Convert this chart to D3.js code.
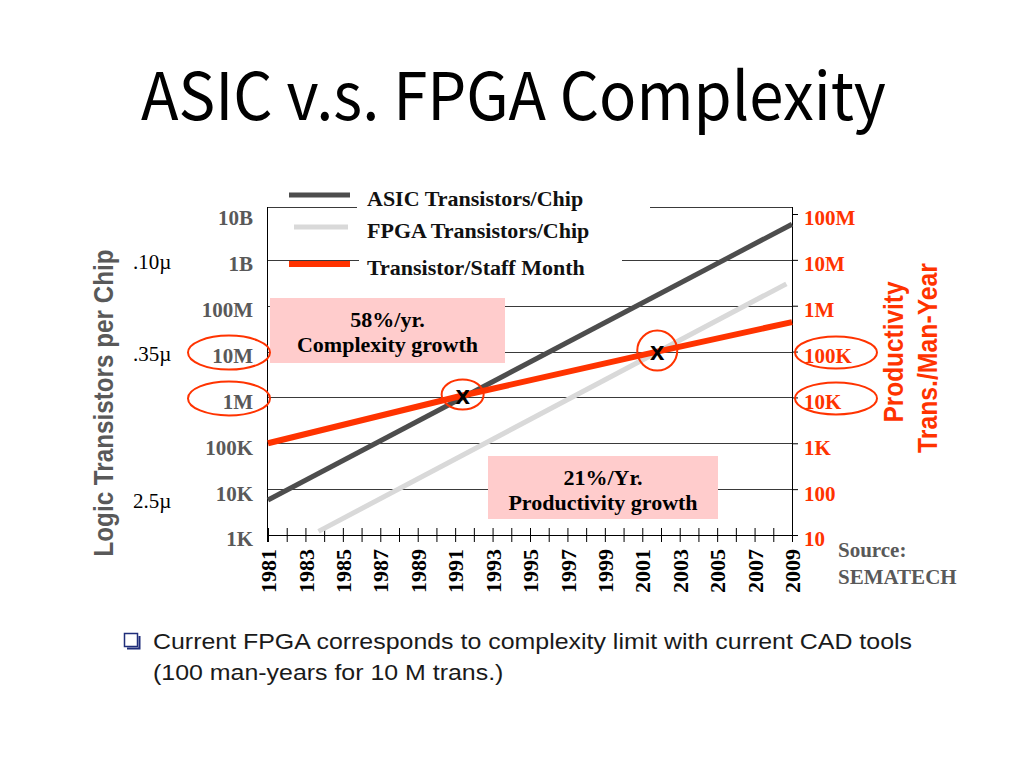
<!DOCTYPE html>
<html lang="en">
<head>
<meta charset="UTF-8">
<title>ASIC v.s. FPGA Complexity</title>
<script src="https://cdn.jsdelivr.net/npm/d3@7"></script>
<style>
  body { margin: 0; background: #fff; }
  svg { display: block; }
  .serif { font-family: "Liberation Serif", "Times New Roman", serif; font-weight: bold; }
  .sans { font-family: "Liberation Sans", Arial, sans-serif; }
</style>
</head>
<body>
<script>
// values
const leftTicks = [1e3, 1e4, 1e5, 1e6, 1e7, 1e8, 1e9, 1e10];
const leftTickLabels = ["1K", "10K", "100K", "1M", "10M", "100M", "1B", "10B"];
const rightTicks = [10, 100, 1e3, 1e4, 1e5, 1e6, 1e7, 1e8];
const rightTickLabels = ["10", "100", "1K", "10K", "100K", "1M", "10M", "100M"];
const yearTicks = d3.range(1981, 2010);

const asicYears = [1981, 2009];
const asicValues = [5.8e3, 6.0e9];
const fpgaYears = [1983.7, 2008.7];
const fpgaValues = [1.2e3, 3.0e8];
const staffYears = [1981, 1991.4, 2001.8, 2009];
const staffValues = [1.0e3, 1.1e4, 1.0e5, 4.4e5];   // productivity axis

const crossYears = [1991.4, 2001.8];
const crossValues = [1.1e4, 1.0e5];                 // productivity axis

const processNodes = [".10µ", ".35µ", "2.5µ"];
const processValues = [1e9, 1e7, 6e3];

const circledLeft = [1e7, 1e6];
const circledRight = [1e5, 1e4];

const legendLabels = ["ASIC Transistors/Chip", "FPGA Transistors/Chip", "Transistor/Staff Month"];
const seriesColors = ["#4d4d4d", "#d9d9d9", "#ff3300"];

const noteLines = [["58%/yr.", "Complexity growth"], ["21%/Yr.", "Productivity growth"]];

const W = 1024, H = 768;
const red = "#ff3300", grey = "#595959";

let svg = d3.select("body").append("svg")
    .attr("width", W)
    .attr("height", H);

// title
let title = svg.append("text")
    .attr("x", 141).attr("y", 120)
    .style("font-family", "'Noto Sans CJK KR', 'Noto Sans', sans-serif")
    .style("font-size", "66px")
    .attr("fill", "#000")
    .text("ASIC v.s. FPGA Complexity");
title.attr("textLength", 745).attr("lengthAdjust", "spacingAndGlyphs");

// scales
let x = d3.scaleLinear().domain([1981, 2009]).range([268, 792]);
let yL = d3.scaleLog().domain([1e3, 1e10]).range([535, 214]);
let yR = d3.scaleLog().domain([10, 1e8]).range([535, 214]);
const frameTop = 207;
const [x0, x1] = x.range();

// grid lines (1K is the axis, 10B row is the frame top)
let grid = svg.append("g").attr("stroke", "#3a3a3a").attr("stroke-width", 1);
grid.selectAll("line.grid")
    .data(leftTicks.slice(1, -1))
    .join("line")
    .attr("class", "grid")
    .attr("x1", x0).attr("x2", x1)
    .attr("y1", d => Math.round(yL(d)) + 0.5)
    .attr("y2", d => Math.round(yL(d)) + 0.5);
grid.append("line")
    .attr("x1", x0).attr("x2", x1)
    .attr("y1", frameTop + 0.5).attr("y2", frameTop + 0.5);

// pink annotation boxes
const boxes = [{x: 270, y: 298, w: 235, h: 65}, {x: 488, y: 456, w: 230, h: 63}];
svg.selectAll("rect.note")
    .data(boxes)
    .join("rect")
    .attr("class", "note")
    .attr("x", d => d.x).attr("y", d => d.y)
    .attr("width", d => d.w).attr("height", d => d.h)
    .attr("fill", "#ffcccc");

boxes.forEach((b, i) => {
    svg.append("text")
        .attr("class", "serif")
        .attr("x", b.x + b.w / 2).attr("y", b.y + 29)
        .attr("text-anchor", "middle")
        .style("font-size", "22px")
        .text(noteLines[i][0]);
    svg.append("text")
        .attr("class", "serif")
        .attr("x", b.x + b.w / 2).attr("y", b.y + 54)
        .attr("text-anchor", "middle")
        .style("font-size", "22px")
        .text(noteLines[i][1]);
});

// legend (white backing hides the grid lines under the labels)
const legendRows = [
    {y: 206, bg: [357, 186, 293, 28]},
    {y: 238, bg: [357, 218, 293, 28]},
    {y: 275, bg: [359, 252, 263, 30]}
];
let legend = svg.append("g");
legend.selectAll("rect")
    .data(legendRows)
    .join("rect")
    .attr("x", d => d.bg[0]).attr("y", d => d.bg[1])
    .attr("width", d => d.bg[2]).attr("height", d => d.bg[3])
    .attr("fill", "#fff");
legend.selectAll("line")
    .data(legendRows)
    .join("line")
    .attr("x1", (d, i) => i === 1 ? 294 : 289)
    .attr("x2", (d, i) => i === 1 ? 348 : 350)
    .attr("y1", d => d.y - 11).attr("y2", d => d.y - 11)
    .attr("stroke", (d, i) => seriesColors[i])
    .attr("stroke-width", (d, i) => i === 2 ? 6 : 5);
legend.selectAll("text")
    .data(legendRows)
    .join("text")
    .attr("class", "serif")
    .attr("x", 367).attr("y", d => d.y)
    .style("font-size", "22px")
    .attr("fill", "#111")
    .text((d, i) => legendLabels[i]);

// axes
let xAxis = svg.append("g")
    .attr("transform", "translate(0,535)")
    .call(d3.axisBottom(x).tickValues(yearTicks).tickSize(7).tickSizeOuter(0)
        .tickFormat(d => d % 2 === 1 ? d : ""));
xAxis.select(".domain").remove();
xAxis.selectAll(".tick line").attr("y1", -7).attr("stroke", "#000");
xAxis.selectAll(".tick text")
    .attr("class", "serif")
    .attr("transform", "rotate(-90)")
    .attr("x", -14).attr("y", 0).attr("dy", "0.35em")
    .style("text-anchor", "end")
    .style("font-size", "22px")
    .attr("fill", "#000");

let leftAxis = svg.append("g")
    .attr("transform", "translate(" + x0 + ",0)")
    .call(d3.axisLeft(yL).tickValues(leftTicks).tickSize(0).tickPadding(15)
        .tickFormat((d, i) => leftTickLabels[i]));
leftAxis.select(".domain").remove();
leftAxis.selectAll(".tick text")
    .attr("class", "serif")
    .attr("dy", "0.52em")
    .style("font-size", "21px")
    .attr("fill", grey);

let rightAxis = svg.append("g")
    .attr("transform", "translate(" + x1 + ",0)")
    .call(d3.axisRight(yR).tickValues(rightTicks).tickSize(6).tickPadding(6)
        .tickFormat((d, i) => rightTickLabels[i]));
rightAxis.select(".domain").remove();
rightAxis.selectAll(".tick line").attr("stroke", "#000");
rightAxis.selectAll(".tick text")
    .attr("class", "serif")
    .attr("dy", "0.52em")
    .style("font-size", "21px")
    .attr("fill", red);

svg.append("line")
    .attr("x1", x0 - 0.5).attr("x2", x0 - 0.5)
    .attr("y1", frameTop).attr("y2", 542)
    .attr("stroke", "#000");
svg.append("line")
    .attr("x1", x1 + 0.5).attr("x2", x1 + 0.5)
    .attr("y1", frameTop).attr("y2", 542)
    .attr("stroke", "#000");
svg.append("line")
    .attr("x1", x0).attr("x2", x1)
    .attr("y1", 535.5).attr("y2", 535.5)
    .attr("stroke", "#000");

// series
let line = d3.line().x(d => x(d[0])).y(d => d[1]);
const series = [
    asicYears.map((yr, i) => [yr, yL(asicValues[i])]),
    fpgaYears.map((yr, i) => [yr, yL(fpgaValues[i])]),
    staffYears.map((yr, i) => [yr, yR(staffValues[i])])
];
svg.selectAll("path.series")
    .data(series)
    .join("path")
    .attr("class", "series")
    .attr("d", line)
    .attr("fill", "none")
    .attr("stroke", (d, i) => seriesColors[i])
    .attr("stroke-width", (d, i) => i === 2 ? 6 : 5);

// crossover marks
const crossR = [[21, 15], [20, 20]];
crossYears.forEach((yr, i) => {
    let cx = x(yr), cy = yR(crossValues[i]);
    svg.append("ellipse")
        .attr("cx", cx).attr("cy", cy - 1)
        .attr("rx", crossR[i][0]).attr("ry", crossR[i][1])
        .attr("fill", "none").attr("stroke", red).attr("stroke-width", 2);
    svg.append("text")
        .attr("class", "sans")
        .attr("x", cx).attr("y", cy + 8)
        .attr("text-anchor", "middle")
        .style("font-size", "26px").style("font-weight", "bold")
        .text("x");
});

// circled tick labels
svg.selectAll("ellipse.cl")
    .data(circledLeft)
    .join("ellipse")
    .attr("class", "cl")
    .attr("cx", 229).attr("cy", d => yL(d) + 1)
    .attr("rx", 41).attr("ry", 17)
    .attr("fill", "none").attr("stroke", red).attr("stroke-width", 2);
svg.selectAll("ellipse.cr")
    .data(circledRight)
    .join("ellipse")
    .attr("class", "cr")
    .attr("cx", 836).attr("cy", d => yR(d) + 1)
    .attr("rx", 41).attr("ry", 16)
    .attr("fill", "none").attr("stroke", red).attr("stroke-width", 2);

// process nodes
svg.selectAll("text.node")
    .data(processNodes)
    .join("text")
    .attr("class", "node")
    .attr("x", 133).attr("y", (d, i) => yL(processValues[i]) + 9)
    .style("font-family", "'Liberation Serif', 'Times New Roman', serif")
    .style("font-size", "21px")
    .text(d => d);

// axis titles
svg.append("text")
    .attr("class", "sans")
    .attr("transform", "translate(113,403) rotate(-90)")
    .attr("text-anchor", "middle")
    .style("font-size", "28px").style("font-weight", "bold")
    .attr("fill", grey)
    .attr("textLength", 307).attr("lengthAdjust", "spacingAndGlyphs")
    .text("Logic Transistors per Chip");
svg.append("text")
    .attr("class", "sans")
    .attr("transform", "translate(903,352) rotate(-90)")
    .attr("text-anchor", "middle")
    .style("font-size", "27px").style("font-weight", "bold")
    .attr("fill", red)
    .attr("textLength", 141).attr("lengthAdjust", "spacingAndGlyphs")
    .text("Productivity");
svg.append("text")
    .attr("class", "sans")
    .attr("transform", "translate(937,358) rotate(-90)")
    .attr("text-anchor", "middle")
    .style("font-size", "27px").style("font-weight", "bold")
    .attr("fill", red)
    .attr("textLength", 190).attr("lengthAdjust", "spacingAndGlyphs")
    .text("Trans./Man-Year");

// source
svg.append("text").attr("class", "serif")
    .attr("x", 838).attr("y", 557)
    .style("font-size", "21px").attr("fill", grey)
    .text("Source:");
svg.append("text").attr("class", "serif")
    .attr("x", 838).attr("y", 584)
    .style("font-size", "21px").attr("fill", grey)
    .text("SEMATECH");

// bullet text
svg.append("rect")
    .attr("x", 124.5).attr("y", 633.5).attr("width", 13).attr("height", 13)
    .attr("fill", "#fff").attr("stroke", "#1f2d7a").attr("stroke-width", 1.5);
svg.append("polyline")
    .attr("points", "127,648.5 139.5,648.5 139.5,636")
    .attr("fill", "none").attr("stroke", "#1f2d7a").attr("stroke-width", 2);

const bulletLines = ["Current FPGA corresponds to complexity limit with current CAD tools",
                     "(100 man-years for 10 M trans.)"];
let bl = svg.selectAll("text.bullet")
    .data(bulletLines)
    .join("text")
    .attr("class", "sans bullet")
    .attr("x", 153).attr("y", (d, i) => 649 + i * 31)
    .style("font-size", "22px")
    .attr("fill", "#1a1a1a")
    .text(d => d);
let k = 759 / bl.nodes()[0].getComputedTextLength();
bl.each(function() {
    d3.select(this)
        .attr("textLength", this.getComputedTextLength() * k)
        .attr("lengthAdjust", "spacingAndGlyphs");
});
</script>
</body>
</html>
